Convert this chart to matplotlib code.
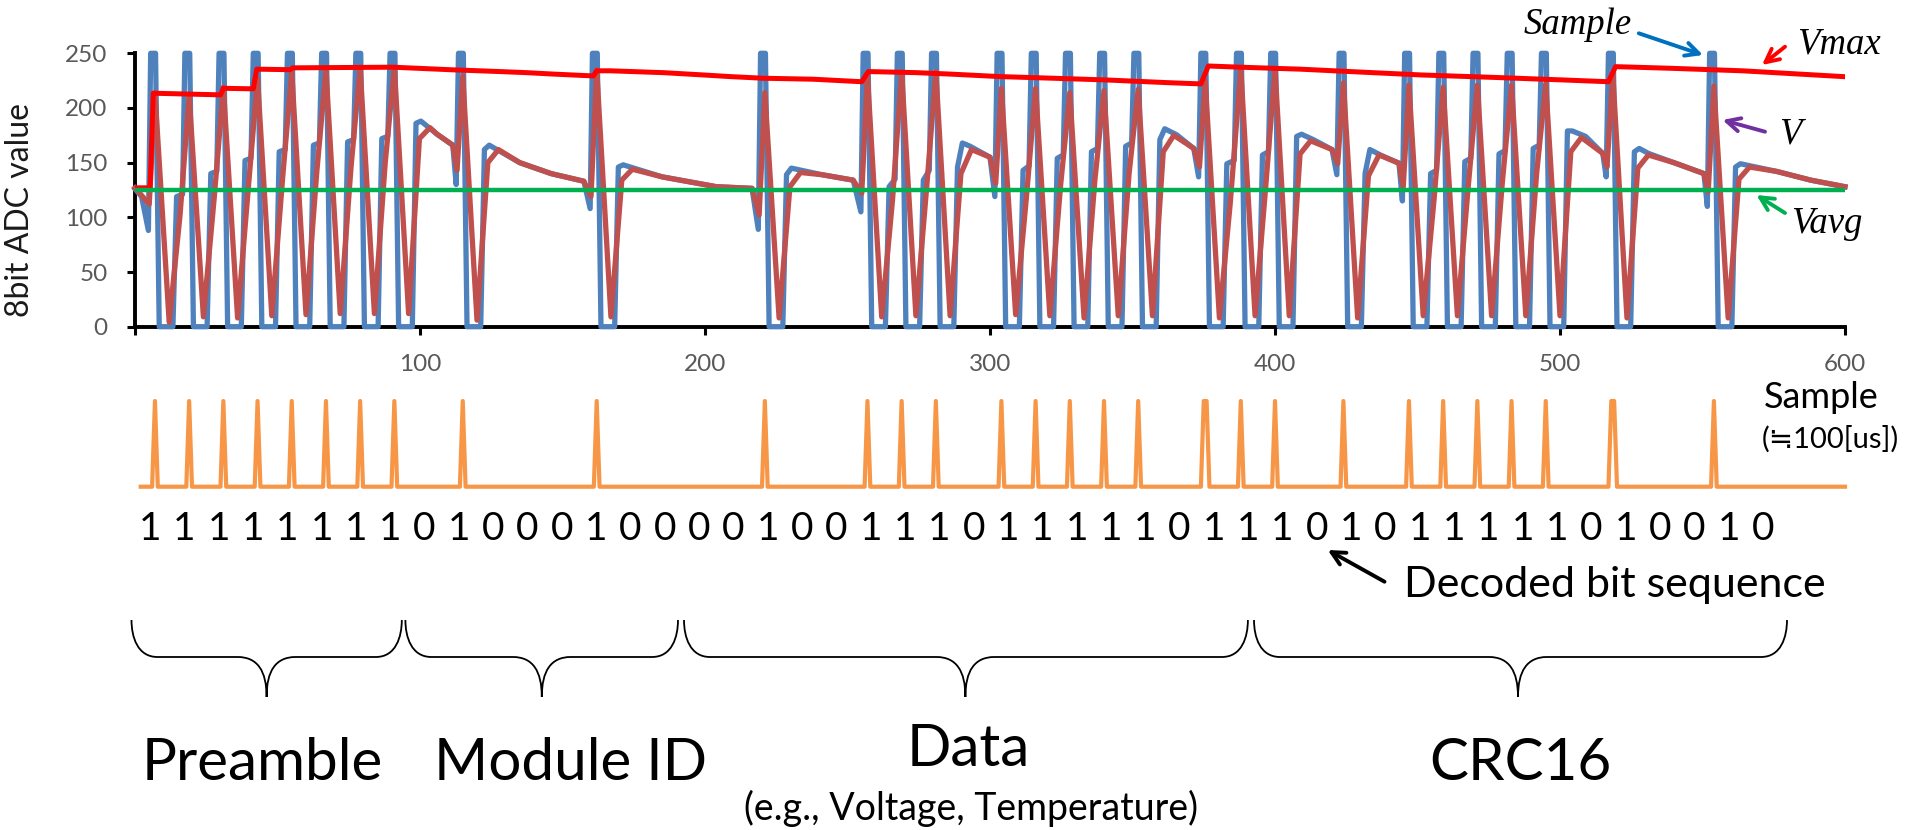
import numpy as np
import matplotlib
matplotlib.use("Agg")
import matplotlib.pyplot as plt
from matplotlib.path import Path
from matplotlib.patches import PathPatch

# ---------------- data ----------------
# sample index of every received "1" pulse
PULSES = [7, 19, 31, 43, 55, 67, 79, 91, 115, 162, 221, 257, 269, 281, 304,
          316, 328, 340, 352, 375.5, 388, 400, 424, 447, 459, 471, 483, 495,
          518.5, 554]
SPIKE_TOP = 255
# "Sample" trace (blue)
BLUE_START_X = [0, 2.3]
BLUE_START_Y = [126, 119]
BLUE_PRE = [88, 121, 142, 154, 162, 168, 171, 174, 130, 108, 89, 105, 135, 143,
            119, 147, 157, 163, 168, 137, 152, 160, 139, 115, 143, 154, 161,
            166, 137, 110]
BLUE_RISE = [119, 140, 152, 160, 166, 169, 172, 186, 162, 146, 139, 128, 134,
             146, 143, 154, 160, 165, 171, 149, 157, 174, 140, 140, 151, 158,
             163, 179, 160, 146]
BLUE_PEAK = [None, None, None, None, None, None, None, 188, 166, 148, 145, None,
             None, 168, None, None, None, None, 181, None, None, 176, 162, None,
             None, None, None, 179, 163, 149]
# slow decay after isolated pulses (sample, value) - both traces overlap here
DECAY = [[], [], [], [], [], [], [],
         [(106, 176), (111.5, 166)],
         [(135, 150), (146, 140), (157.5, 133)],
         [(185, 137), (204, 128), (216.5, 126.5)],
         [(241, 139), (252, 134)],
         [], [],
         [(293, 165), (300, 155)],
         [], [], [], [],
         [(365.5, 175.5), (371.5, 163)],
         [], [],
         [(413.5, 171), (420, 162)],
         [(437, 157), (443.5, 149.5)],
         [], [], [], [],
         [(509, 174), (515, 158.5)],
         [(531, 158.5), (540, 150), (550.5, 140)],
         [(576, 142), (588, 134), (600, 128)]]
# "V" trace (dark red)
RED_START = 127
RED_PRE = [112, None, None, None, None, None, None, None, 143, 119, 102, 122,
           None, None, 131, None, None, None, None, 146, None, None, 149, 128,
           None, None, None, None, 146, 123.5]
RED_PEAK = [214, 211, 219, 227, 233, 235, 237, 237, 229, 235, 214, 230, 233,
            233, 218, 218, 214, 216, 217, 225, 236, 236, 223, 221, 219, 221,
            221, 222, 232, 220]
RED_TROUGH = [4, 9, 8, 10, 11, 12, 12, 12, 6, 9, 8, 9, 10, 10, 11, 10, 8, 10,
              10, 8, 10, 10, 8, 10, 10, 10, 10, 10, 8, 8]
RED_REC = [102, 118, 128, 136, 142, 146, 150, 172, 150, 134, 128, 116, 128, 140,
           119, 130, 134, 140, 160, 113, 130, 158, 138, 116, 128, 133, 140, 160,
           145, 135]
RED_HUMP = [None, None, None, None, None, None, None, 182, 162, 144, 141, None,
            None, 162, None, None, None, None, 175, None, None, 170, 157, None,
            None, None, None, 173, 157, 146]
# Vmax (bright red) and Vavg (green)
VMAX_X = [0, 5.3, 6.4, 30, 31, 41.5, 42.7, 54.4, 55.4, 90.5, 110.5, 128, 137.4,
          146.8, 160.8, 162, 166.7, 185.4, 199.4, 208.8, 220.5, 238, 255, 257.3,
          274.3, 286, 303.5, 322.2, 341, 362, 374, 376.6, 387.7, 408.8, 426.3,
          451.3, 476.4, 501.4, 517, 519.5, 538.9, 564, 600]
VMAX_Y = [127, 127, 213.5, 212, 218, 217.5, 235.5, 235, 236.7, 237.3, 235,
          233.3, 232.3, 231, 229.3, 234, 234, 232.3, 230.2, 228.7, 227.2, 226.3,
          224, 233.3, 232.3, 231, 228.7, 227.2, 225.6, 223.2, 222, 238.4, 237.3,
          235.5, 233.3, 230.2, 228, 225.6, 224, 237.8, 236.3, 234, 228.6]
VAVG = 125
# decoded pulses (orange) and bit sequence
DECODED_ONES = [7, 19, 31, 43, 55, 67, 79, 91, 115, 162, 221, 257, 269, 281,
                304, 316, 328, 340, 352, 375, 376, 388, 400, 424, 447, 459, 471,
                483, 495, 518, 519, 554]
BITS = "111111110100010000100111011111011101011111010010"
SEGMENTS = ["Preamble", "Module ID", "Data", "CRC16"]
X_TICKS = [0, 100, 200, 300, 400, 500, 600]
Y_TICKS = [0, 50, 100, 150, 200, 250]

# ---------------- build traces ----------------
bx, by = list(BLUE_START_X), list(BLUE_START_Y)
rx, ry = [0], [RED_START]
for k, p in enumerate(PULSES):
    bx += [p - 2.3, p - 1.5, p + 0.2, p + 1.5, p + 6.3, p + 7.6]
    by += [BLUE_PRE[k], SPIKE_TOP, SPIKE_TOP, 0, 0, BLUE_RISE[k]]
    if BLUE_PEAK[k] is not None:
        bx.append(p + 9.3); by.append(BLUE_PEAK[k])
        for x, v in DECAY[k]:
            bx.append(x); by.append(v)
    if RED_PRE[k] is not None:
        rx.append(p - 2.0); ry.append(RED_PRE[k])
    rx += [p, p + 5, p + 8.8]
    ry += [RED_PEAK[k], RED_TROUGH[k], RED_REC[k]]
    if RED_HUMP[k] is not None:
        rx.append(p + 12.5); ry.append(RED_HUMP[k])
        for x, v in DECAY[k]:
            if x > p + 14:
                rx.append(x); ry.append(v)

# ---------------- figure ----------------
plt.rcParams['font.family'] = ['Lato', 'DejaVu Sans']
W, H = 1909, 830
fig = plt.figure(figsize=(W / 100, H / 100), dpi=100)
X0, X1 = 135, 1845
Y0, Y1 = 326.7, 53.3

ax = fig.add_axes([X0 / W, 1 - Y0 / H, (X1 - X0) / W, (Y0 - Y1) / H])
ax.patch.set_visible(False)
ax.plot(bx, np.minimum(by, 250), color='#4F81BD', lw=3.8, zorder=3,
        clip_on=False, solid_joinstyle='round')
ax.plot(rx, ry, color='#C0504D', lw=3.8, zorder=4, clip_on=False,
        solid_joinstyle='round')
ax.plot(VMAX_X, VMAX_Y, color='#FF0000', lw=3.6, zorder=5)
ax.plot([0, 600], [VAVG, VAVG], color='#00B050', lw=3.2, zorder=6)
ax.set_xlim(0, 600)
ax.set_ylim(0, 250)
for s in ['top', 'right']:
    ax.spines[s].set_visible(False)
for s in ['left', 'bottom']:
    ax.spines[s].set_linewidth(2.8)
    ax.spines[s].set_color('black')
ax.set_yticks(Y_TICKS)
ax.set_xticks(X_TICKS)
ax.set_xticklabels([''] + [str(v) for v in X_TICKS[1:]])
ax.tick_params(axis='both', direction='out', length=5.8, width=2.2,
               color='black', labelcolor='#595959', labelsize=17.5)
ax.tick_params(axis='x', pad=14)
ax.tick_params(axis='y', pad=14)

# decoded pulse strip
O0, O1 = 486.7, 401
ax2 = fig.add_axes([X0 / W, 1 - O0 / H, (X1 - X0) / W, (O0 - O1) / H])
samples = np.arange(2, 601)
decoded = np.isin(samples, DECODED_ONES).astype(float)
ax2.plot(samples, decoded, color='#F79646', lw=3.0, clip_on=False,
         solid_joinstyle='round')
ax2.set_xlim(0, 600)
ax2.set_ylim(0, 1)
ax2.axis('off')

# overlay in pixel coordinates
ov = fig.add_axes([0, 0, 1, 1])
ov.set_xlim(0, W)
ov.set_ylim(H, 0)
ov.axis('off')

ov.text(20, 210, '8bit ADC value', rotation=90, fontsize=23, ha='center',
        va='center', color='#1a1a1a')

n = len(BITS)
for i, b in enumerate(BITS):
    ov.text(150 + i * (1763 - 150) / (n - 1), 540, b, fontsize=28,
            ha='center', va='baseline')

ov.text(1764, 408, 'Sample', fontsize=26, ha='left', va='baseline')
ov.text(1762, 448, '(\u2252100[us])', fontsize=21, ha='left', va='baseline')
ov.text(1404, 597, 'Decoded bit sequence', fontsize=31, ha='left',
        va='baseline')

# braces
def brace(L, R, T, top=620, mid=657, tip=697):
    M, C, Li = Path.MOVETO, Path.CURVE4, Path.LINETO
    verts = [(L, top), (L, mid - 20), (L + 6, mid), (L + 26, mid),
             (T - 29, mid), (T - 9, mid), (T, mid + 14), (T, tip),
             (T, mid + 14), (T + 9, mid), (T + 29, mid),
             (R - 26, mid), (R - 6, mid), (R, mid - 20), (R, top)]
    codes = [M, C, C, C, Li, C, C, C, C, C, C, Li, C, C, C]
    ov.add_patch(PathPatch(Path(verts, codes), fill=False, lw=1.3,
                           edgecolor='black'))

BRACES = [(131.5, 401.8, 266.6), (405.4, 678, 541.8), (684, 1247.9, 965.4),
          (1254, 1787, 1518)]
for L, R, T in BRACES:
    brace(L, R, T)

LABEL_POS = [(262, 780), (570, 780), (968, 766), (1520, 780)]
for name, (x, y) in zip(SEGMENTS, LABEL_POS):
    ov.text(x, y, name, fontsize=42, ha='center', va='baseline')
ov.text(971, 820, '(e.g., Voltage, Temperature)', fontsize=27, ha='center',
        va='baseline')

# italic annotations with arrows
serif = dict(family=['Liberation Serif', 'DejaVu Serif'], style='italic',
             fontsize=26.5, ha='center', va='baseline')
ov.text(1578, 34, 'Sample', **serif)
ov.text(1839, 53, 'Vmax', **serif)
ov.text(1790, 143, 'V', **serif)
ov.text(1827, 233, 'Vavg', **serif)

ARROWS = [((1638.8, 33.3), (1703, 55), '#0070C0'),
          ((1785, 46.7), (1762, 65), '#FF0000'),
          ((1765, 131.7), (1722.5, 120), '#7030A0'),
          ((1785, 213), (1756.4, 195), '#00B050'),
          ((1384.5, 581.7), (1327.7, 550), 'black')]
for tail, head, c in ARROWS:
    ov.annotate('', xy=head, xytext=tail,
                arrowprops=dict(arrowstyle='->', color=c, lw=2.8,
                                mutation_scale=24, shrinkA=0, shrinkB=0))

fig.savefig('out.png', dpi=100)
